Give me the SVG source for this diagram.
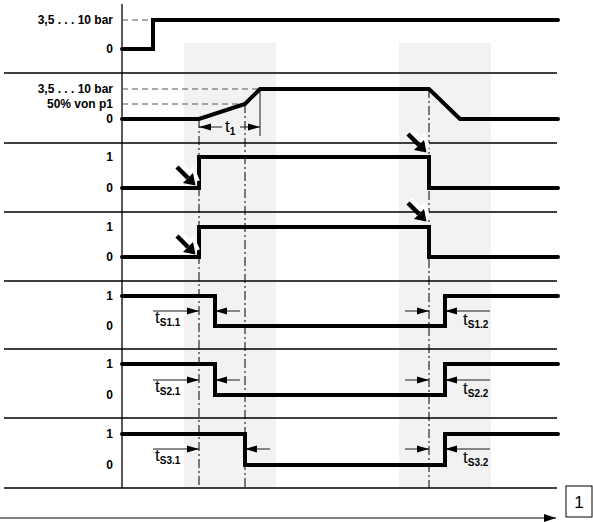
<svg xmlns="http://www.w3.org/2000/svg" width="593" height="522" viewBox="0 0 593 522">
<style>
.lbl{font-family:"Liberation Sans",Arial,sans-serif;font-weight:bold;font-size:12px;fill:#000;text-anchor:end}
.sig{fill:none;stroke:#000;stroke-width:4;stroke-linecap:round;stroke-linejoin:miter}
.sep{stroke:#000;stroke-width:1.3;fill:none}
.dash{stroke:#555;stroke-width:1;stroke-dasharray:6 4;fill:none}
.dd{stroke:#000;stroke-width:1;stroke-dasharray:9 3 2 3;fill:none}
.dim{stroke:#000;stroke-width:0.9;fill:none;marker-end:url(#ah)}
.t{font-family:"Liberation Sans",Arial,sans-serif;font-size:17px;fill:#000}
.sub{font-size:10px;font-weight:bold}
.band{fill:#f2f2f2}
</style>
<defs>
<marker id="ah" markerUnits="userSpaceOnUse" markerWidth="12" markerHeight="8" refX="12" refY="4" orient="auto">
<path d="M0,0.5 L12,4 L0,7.5 z" fill="#000"/>
</marker>
<marker id="bigah" markerUnits="userSpaceOnUse" markerWidth="12" markerHeight="8" refX="12" refY="4" orient="auto">
<path d="M0,0 L12,4 L0,8 z" fill="#000"/>
</marker>
<g id="trig">
<path d="M3,-4 L14,7 L16,3 L21,14" fill="none" stroke="#fff" stroke-width="4"/>
<line x1="0" y1="0" x2="11" y2="11" stroke="#000" stroke-width="4.5"/>
<polygon points="18.5,18.5 6,16 16,6" fill="#000"/>
</g>
</defs>

<g id="bands">
<rect class="band" x="184" y="43" width="92" height="445"/>
<rect class="band" x="399" y="43" width="92" height="445"/>
</g>

<g id="grid">
<line class="sep" x1="4" y1="73" x2="557" y2="73"/>
<line class="sep" x1="4" y1="143" x2="557" y2="143"/>
<line class="sep" x1="4" y1="212" x2="557" y2="212"/>
<line class="sep" x1="4" y1="281" x2="557" y2="281"/>
<line class="sep" x1="4" y1="349" x2="557" y2="349"/>
<line class="sep" x1="4" y1="418" x2="557" y2="418"/>
<line class="sep" x1="4" y1="488" x2="557" y2="488"/>
<line class="sep" x1="122" y1="4" x2="122" y2="488"/>
</g>

<g id="connectors">
<line class="dash" x1="122" y1="20" x2="153" y2="20"/>
<line class="dash" x1="122" y1="89" x2="260" y2="89"/>
<line class="dash" x1="122" y1="104" x2="245" y2="104"/>
<line class="dd" x1="199" y1="119" x2="199" y2="488"/>
<line class="dd" x1="245" y1="104" x2="245" y2="488"/>
<line class="dd" x1="429" y1="89" x2="429" y2="488"/>
<line stroke="#000" stroke-width="0.9" x1="260" y1="89" x2="260" y2="136"/>
<line class="dim" x1="222" y1="127" x2="199" y2="127"/>
<line class="dim" x1="240" y1="127" x2="260" y2="127"/>
<line class="dim" x1="153" y1="311" x2="199" y2="311"/>
<line class="dim" x1="240" y1="311" x2="215" y2="311"/>
<line class="dim" x1="405" y1="311" x2="429" y2="311"/>
<line class="dim" x1="490" y1="311" x2="445" y2="311"/>
<line class="dim" x1="153" y1="380" x2="199" y2="380"/>
<line class="dim" x1="240" y1="380" x2="215" y2="380"/>
<line class="dim" x1="405" y1="380" x2="429" y2="380"/>
<line class="dim" x1="490" y1="380" x2="445" y2="380"/>
<line class="dim" x1="153" y1="449" x2="199" y2="449"/>
<line class="dim" x1="270" y1="449" x2="245" y2="449"/>
<line class="dim" x1="405" y1="449" x2="429" y2="449"/>
<line class="dim" x1="490" y1="449" x2="445" y2="449"/>
<line x1="0" y1="518" x2="556" y2="518" stroke="#000" stroke-width="1" marker-end="url(#bigah)"/>
</g>

<g id="signal1">
<path class="sig" d="M122,49 H153 V20 H558"/>
<text class="lbl" x="113" y="24">3,5 . . . 10 bar</text>
<text class="lbl" x="113" y="53">0</text>
</g>
<g id="signal2">
<path class="sig" d="M122,119 H199 L245,104 L260,89 H429 L460,119 H558"/>
<text class="lbl" x="113" y="93">3,5 . . . 10 bar</text>
<text class="lbl" x="113" y="108">50% von p1</text>
<text class="lbl" x="113" y="123">0</text>
<text class="t" x="225" y="132">t<tspan class="sub" dy="3">1</tspan></text>
</g>
<g id="signal3">
<path class="sig" d="M122,188 H199 V157 H429 V188 H558"/>
<text class="lbl" x="113" y="161">1</text>
<text class="lbl" x="113" y="192">0</text>
<use href="#trig" x="177" y="167"/>
<use href="#trig" x="408" y="134"/>
</g>
<g id="signal4">
<path class="sig" d="M122,257 H199 V227 H429 V257 H558"/>
<text class="lbl" x="113" y="231">1</text>
<text class="lbl" x="113" y="261">0</text>
<use href="#trig" x="177" y="236"/>
<use href="#trig" x="408" y="203"/>
</g>
<g id="signal5">
<path class="sig" d="M122,296 H215 V326 H445 V296 H558"/>
<text class="lbl" x="113" y="300">1</text>
<text class="lbl" x="113" y="330">0</text>
<text class="t" x="155" y="323">t<tspan class="sub" dy="3">S1.1</tspan></text>
<text class="t" x="463" y="325">t<tspan class="sub" dy="3">S1.2</tspan></text>
</g>
<g id="signal6">
<path class="sig" d="M122,364 H215 V395 H445 V364 H558"/>
<text class="lbl" x="113" y="368">1</text>
<text class="lbl" x="113" y="399">0</text>
<text class="t" x="155" y="392">t<tspan class="sub" dy="3">S2.1</tspan></text>
<text class="t" x="463" y="394">t<tspan class="sub" dy="3">S2.2</tspan></text>
</g>
<g id="signal7">
<path class="sig" d="M122,434 H245 V465 H445 V434 H558"/>
<text class="lbl" x="113" y="438">1</text>
<text class="lbl" x="113" y="469">0</text>
<text class="t" x="155" y="461">t<tspan class="sub" dy="3">S3.1</tspan></text>
<text class="t" x="463" y="463">t<tspan class="sub" dy="3">S3.2</tspan></text>
</g>
<g id="legend">
<rect x="566" y="486" width="26" height="31" fill="#fff" stroke="#000" stroke-width="1"/>
<text x="579" y="508" font-family="Liberation Sans, Arial, sans-serif" font-size="17" text-anchor="middle">1</text>
</g>
</svg>
